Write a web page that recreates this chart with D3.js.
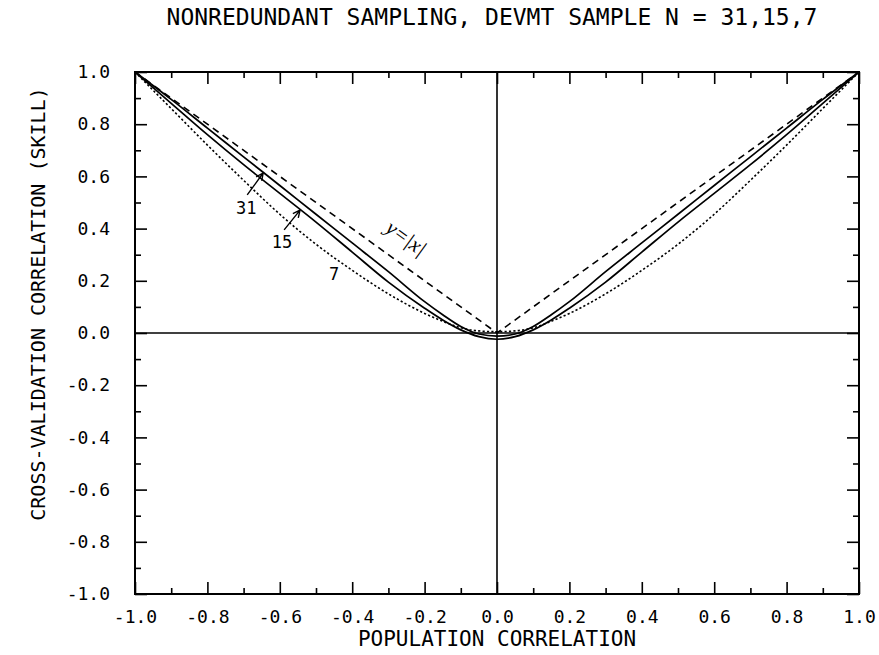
<!DOCTYPE html>
<html>
<head>
<meta charset="utf-8">
<script src="https://cdn.jsdelivr.net/npm/d3@7"></script>
<style>
  body { margin: 0; background: #fff; }
  text { font-family: "DejaVu Sans Mono", monospace; fill: #000; }
</style>
</head>
<body>
<div id="chart"></div>
<script>
// population correlation (x) and cross-validation skill per sample size
const rho = [-1, -0.9, -0.8, -0.7, -0.6, -0.5, -0.4, -0.3, -0.2, -0.15, -0.1, -0.05, 0,
             0.05, 0.1, 0.15, 0.2, 0.3, 0.4, 0.5, 0.6, 0.7, 0.8, 0.9, 1]
const skill31 = [1, .895, .785, .675, .565, .455, .345, .235, .12, .07, .025, -.004, -.012,
                 -.004, .025, .07, .12, .235, .345, .455, .565, .675, .785, .895, 1]
const skill15 = [1, .88, .76, .645, .535, .425, .31, .195, .095, .05, .012, -.014, -.024,
                 -.014, .012, .05, .095, .195, .31, .425, .535, .645, .76, .88, 1]
const skill7 = [1, .86, .72, .585, .455, .34, .24, .15, .075, .045, .02, .008, .005,
                .008, .02, .045, .075, .15, .24, .34, .455, .585, .72, .86, 1]
const diagX = [-1, 0, 1]
const diagY = [1, 0, 1]

const majorTicks = [-1, -0.8, -0.6, -0.4, -0.2, 0, 0.2, 0.4, 0.6, 0.8, 1]
const minorTicks = [-0.9, -0.7, -0.5, -0.3, -0.1, 0.1, 0.3, 0.5, 0.7, 0.9]

const width = 879
const height = 655
const pLeft = 135, pRight = 859, pTop = 72, pBottom = 594

const x = d3.scaleLinear().domain([-1, 1]).range([pLeft, pRight])
const y = d3.scaleLinear().domain([-1, 1]).range([pBottom, pTop])

const svg = d3.select("#chart")
  .append("svg")
  .attr("width", width)
  .attr("height", height)

const fmt = d => d.toFixed(1)

// axes, ticks pointing inward
function styleAxis(g) {
  g.select(".domain").remove()
  g.selectAll(".tick line").attr("stroke", "#000").attr("stroke-width", 1.6)
  g.selectAll("text").style("font-size", "18px")
}

svg.append("g")
  .attr("transform", `translate(0,${pBottom})`)
  .call(d3.axisBottom(x).tickValues(majorTicks).tickSize(-12).tickPadding(16).tickFormat(fmt))
  .call(styleAxis)
svg.append("g")
  .attr("transform", `translate(0,${pBottom})`)
  .call(d3.axisBottom(x).tickValues(minorTicks).tickSize(-6).tickFormat(""))
  .call(styleAxis)
svg.append("g")
  .attr("transform", `translate(0,${pTop})`)
  .call(d3.axisTop(x).tickValues(majorTicks).tickSize(-12).tickFormat(""))
  .call(styleAxis)
svg.append("g")
  .attr("transform", `translate(0,${pTop})`)
  .call(d3.axisTop(x).tickValues(minorTicks).tickSize(-6).tickFormat(""))
  .call(styleAxis)
svg.append("g")
  .attr("transform", `translate(${pLeft},0)`)
  .call(d3.axisLeft(y).tickValues(majorTicks).tickSize(-12).tickPadding(25).tickFormat(fmt))
  .call(styleAxis)
svg.append("g")
  .attr("transform", `translate(${pLeft},0)`)
  .call(d3.axisLeft(y).tickValues(minorTicks).tickSize(-6).tickFormat(""))
  .call(styleAxis)
svg.append("g")
  .attr("transform", `translate(${pRight},0)`)
  .call(d3.axisRight(y).tickValues(majorTicks).tickSize(-12).tickFormat(""))
  .call(styleAxis)
svg.append("g")
  .attr("transform", `translate(${pRight},0)`)
  .call(d3.axisRight(y).tickValues(minorTicks).tickSize(-6).tickFormat(""))
  .call(styleAxis)

// frame
svg.append("rect")
  .attr("x", pLeft).attr("y", pTop)
  .attr("width", pRight - pLeft).attr("height", pBottom - pTop)
  .attr("fill", "none").attr("stroke", "#000").attr("stroke-width", 2)

// zero lines
svg.append("line")
  .attr("x1", x(-1)).attr("x2", x(1)).attr("y1", y(0)).attr("y2", y(0))
  .attr("stroke", "#000").attr("stroke-width", 1.6)
svg.append("line")
  .attr("x1", x(0)).attr("x2", x(0)).attr("y1", y(-1)).attr("y2", y(1))
  .attr("stroke", "#000").attr("stroke-width", 1.6)

const smooth = d3.line()
  .x(d => x(d[0]))
  .y(d => y(d[1]))
  .curve(d3.curveMonotoneX)
const straight = d3.line()
  .x(d => x(d[0]))
  .y(d => y(d[1]))

const series = [
  { vals: d3.zip(diagX, diagY), gen: straight, dash: "7,5", w: 1.6 },
  { vals: d3.zip(rho, skill31), gen: smooth, dash: null, w: 1.7 },
  { vals: d3.zip(rho, skill15), gen: smooth, dash: null, w: 1.7 },
  { vals: d3.zip(rho, skill7), gen: smooth, dash: "2.2,2.2", w: 1.6 },
]

svg.selectAll("path.curve")
  .data(series)
  .enter().append("path")
  .attr("class", "curve")
  .attr("d", d => d.gen(d.vals))
  .attr("fill", "none")
  .attr("stroke", "#000")
  .attr("stroke-width", d => d.w)
  .attr("stroke-dasharray", d => d.dash)

// curve labels with arrows
const labels = [
  { t: "31", lx: -0.693, ly: 0.479, ax: [-0.69, 0.529], at: [-0.646, 0.613] },
  { t: "15", lx: -0.594, ly: 0.349, ax: [-0.588, 0.395], at: [-0.544, 0.471] },
  { t: "7", lx: -0.450, ly: 0.226 },
]

svg.selectAll("text.lab")
  .data(labels)
  .enter().append("text")
  .attr("class", "lab")
  .attr("x", d => x(d.lx))
  .attr("y", d => y(d.ly))
  .attr("dy", "0.36em")
  .attr("text-anchor", "middle")
  .style("font-size", "17px")
  .text(d => d.t)

labels.filter(d => d.ax).forEach(d => {
  const x0 = x(d.ax[0]), y0 = y(d.ax[1]), x1 = x(d.at[0]), y1 = y(d.at[1])
  const ang = Math.atan2(y1 - y0, x1 - x0)
  const hl = 8, spread = 0.45
  svg.append("path")
    .attr("d", `M${x0},${y0}L${x1},${y1}` +
      `M${x1 - hl * Math.cos(ang - spread)},${y1 - hl * Math.sin(ang - spread)}L${x1},${y1}` +
      `L${x1 - hl * Math.cos(ang + spread)},${y1 - hl * Math.sin(ang + spread)}`)
    .attr("fill", "none").attr("stroke", "#000").attr("stroke-width", 1.4)
})

// y=|x| label along the diagonal
const angle = Math.atan2(y(0) - y(1), x(0) - x(-1)) * 180 / Math.PI
svg.append("text")
  .attr("transform", `translate(${x(-0.25)},${y(0.365)}) rotate(${angle})`)
  .attr("text-anchor", "middle")
  .attr("dy", "0.35em")
  .style("font-family", "'Liberation Serif', serif")
  .style("font-style", "italic")
  .style("font-size", "21px")
  .text("y=|x|")

// titles
svg.append("text")
  .attr("x", 492).attr("y", 25)
  .attr("text-anchor", "middle")
  .style("font-size", "23px")
  .text("NONREDUNDANT SAMPLING, DEVMT SAMPLE N = 31,15,7")

svg.append("text")
  .attr("x", (pLeft + pRight) / 2).attr("y", 646)
  .attr("text-anchor", "middle")
  .style("font-size", "21px")
  .text("POPULATION CORRELATION")

svg.append("text")
  .attr("transform", `translate(38,304) rotate(-90)`)
  .attr("text-anchor", "middle")
  .attr("dy", "0.35em")
  .style("font-size", "20px")
  .text("CROSS-VALIDATION CORRELATION (SKILL)")
</script>
</body>
</html>
